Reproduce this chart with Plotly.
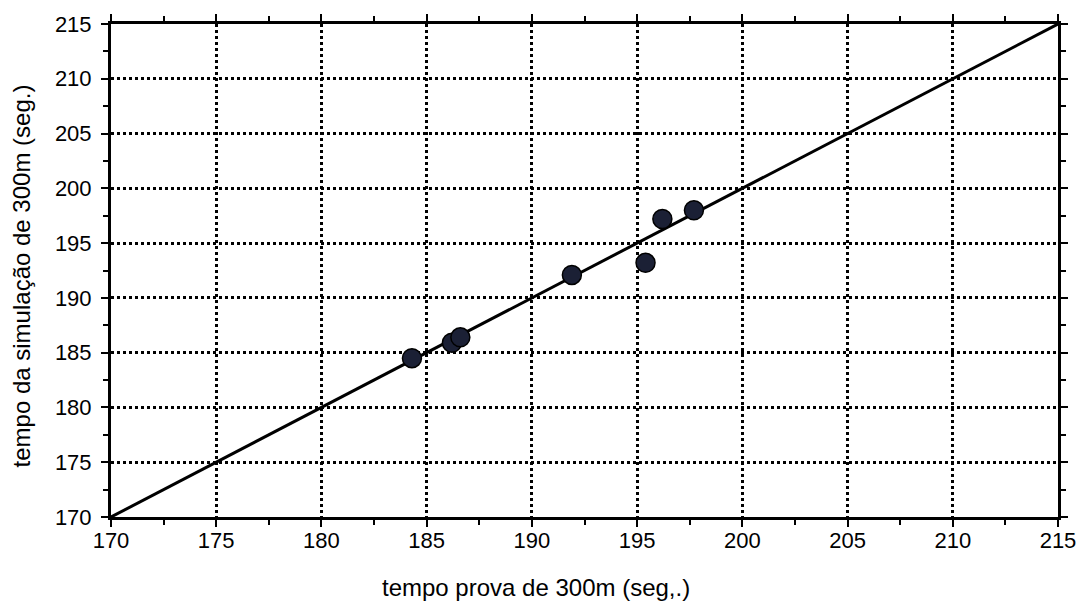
import plotly.graph_objects as go

# Measured times (seconds): 300 m trial vs. 300 m simulation
tempo_prova = [184.3, 186.2, 186.6, 191.9, 195.4, 196.2, 197.7]
tempo_simulacao = [184.5, 185.9, 186.4, 192.1, 193.2, 197.2, 198.0]

# Identity line (y = x) across the axis range
linha_x = [170, 215]
linha_y = [170, 215]

tick_vals = [170, 175, 180, 185, 190, 195, 200, 205, 210, 215]

FONT = "Liberation Sans, Arial, sans-serif"

fig = go.Figure()

fig.add_trace(go.Scatter(
    x=linha_x, y=linha_y, mode="lines",
    line=dict(color="black", width=3),
    hoverinfo="skip", showlegend=False,
))

fig.add_trace(go.Scatter(
    x=tempo_prova, y=tempo_simulacao, mode="markers",
    marker=dict(size=19, color="#1b2035", line=dict(color="black", width=1.5)),
    showlegend=False,
))

axis_common = dict(
    showline=True, linecolor="black", linewidth=3, mirror="ticks",
    ticks="outside", ticklen=7, tickwidth=2, tickcolor="black",
    showgrid=True, gridcolor="black", gridwidth=2.5, griddash="dot",
    zeroline=False,
    tickfont=dict(family=FONT, size=22, color="black"),
    tickvals=tick_vals,
    minor=dict(ticks="outside", ticklen=5, tickwidth=2, tickcolor="black", dtick=2.5, showgrid=False),
)

fig.update_xaxes(range=[170, 215], ticklabelstandoff=-5, **axis_common)
fig.update_yaxes(range=[170, 215], ticklabelstandoff=5, **axis_common)

fig.add_annotation(
    text="tempo prova de 300m (seg,.)", xref="paper", yref="paper",
    x=0.449, y=-0.144, xanchor="center", yanchor="middle", showarrow=False,
    font=dict(family=FONT, size=24, color="black"),
)
fig.add_annotation(
    text="tempo da simulação de 300m (seg.)", xref="paper", yref="paper",
    x=-0.095, y=0.488, xanchor="center", yanchor="middle", textangle=-90, showarrow=False,
    font=dict(family=FONT, size=24, color="black"),
)

fig.update_layout(
    width=1088, height=609,
    margin=dict(l=111, r=26, t=23, b=92),
    paper_bgcolor="white", plot_bgcolor="white",
)

fig.write_html("out.html")
